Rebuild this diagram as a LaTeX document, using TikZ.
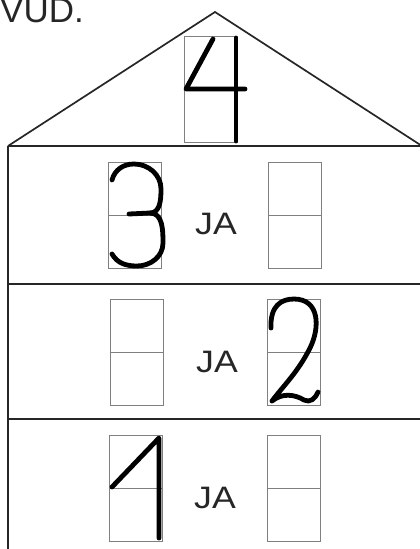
\documentclass[tikz,border=0pt]{standalone}
\usepackage{fontspec}
\setmainfont{Liberation Sans}
\usetikzlibrary{positioning}
\tikzstyle{cell} = [rectangle, 
draw=gray, 
line width=0.9pt,
minimum width=53pt, 
minimum height=106pt,
inner sep=0pt]
\tikzstyle{half} = [draw=gray, line width=0.9pt]
\tikzstyle{wall} = [line width=1.7pt, black!85]
\tikzstyle{digit} = [line width=4.8pt, line cap=round, line join=round]
\tikzstyle{ja} = [font=\fontsize{31}{31}\selectfont, anchor=base, inner sep=0pt, xscale=1.15, transform shape, black!85]

\begin{document}
\begin{tikzpicture}[x=1pt, y=-1pt]
				
				% Page size of the worksheet cut-out
				\useasboundingbox (0,0) rectangle (420,549);
				
				\node[anchor=base east, inner sep=0pt, font=\fontsize{35}{35}\selectfont, black!85] (title) at (84,22) {VUD.};
				
				% House
				\draw[wall] (8,146) -- (215,12) -- (422,146);
				\draw[wall] (8,146) -- (425,146);
				\draw[wall] (8,284) -- (425,284);
				\draw[wall] (8,419) -- (425,419);
				\draw[wall] (8,146) -- (8,552);
				
				% Cells
				\node[cell] (four) at (210.5,89) {};
				\node[cell] (three) at (135,215.5) {};
				\node[cell] (blankA) at ([xshift=159.5pt]three.center) {};
				\node[cell] (blankB) at ([xshift=1.5pt, yshift=-136.5pt]three.center) {};
				\node[cell] (two) at ([xshift=157.5pt]blankB.center) {};
				\node[cell] (one) at ([xshift=-0.5pt, yshift=-136pt]blankB.center) {};
				\node[cell] (blankC) at ([xshift=157.5pt]one.center) {};
				\foreach \c in {four, three, blankA, blankB, two, one, blankC}
					\draw[half] (\c.west) -- (\c.east);
				
				% Sum row labels
				\node[ja] (ja1) at (216,234) {JA};
				\node[ja] (ja2) at (217,372) {JA};
				\node[ja] (ja3) at (215,508) {JA};
				
				% Digits
				\draw[digit] (213,39) -- (186,89) -- (245,89);
				\draw[digit] (236,38) -- (236,141);
				\draw[digit] (112,180) to[out=75,in=180] (134,164) to[out=0,in=90] (161,189) to[out=-90,in=0] (150,213) -- (129,214);
				\draw[digit] (150,213) to[out=0,in=90] (163,243) to[out=-90,in=0] (137,266) to[out=180,in=-60] (112,254);
				\draw[digit] (271,328) .. controls (270,306) and (281,299) .. (294,299) .. controls (320,299) and (320,328) .. (310,348) .. controls (298,372) and (284,385) .. (272,401) .. controls (282,393) and (294,394) .. (304,400) .. controls (310,403) and (315,399) .. (318,392);
				\draw[digit] (112,487) -- (159,438) -- (159,538);
				
\end{tikzpicture}
\end{document}
